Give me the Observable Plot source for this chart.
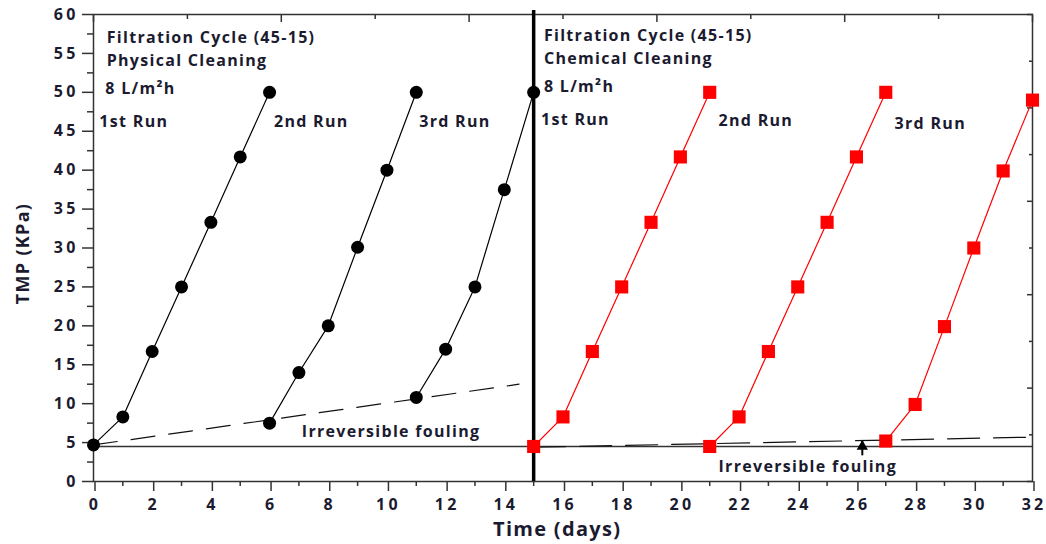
<!DOCTYPE html>
<html>
<head>
<meta charset="utf-8">
<script src="https://cdn.jsdelivr.net/npm/d3@7"></script>
<script src="https://cdn.jsdelivr.net/npm/@observablehq/plot@0.6"></script>
<style>
  html, body { margin: 0; padding: 0; background: #fff; }
  #chart svg { display: block; }
  #chart svg text { letter-spacing: 1.3px; }
  #chart svg text.ticklab { letter-spacing: 3.2px; }
</style>
</head>
<body>
<div id="chart"></div>
<script>
// ---- Data ----
const phys1X = [0, 1, 2, 3, 4, 5, 6];
const phys1Y = [4.7, 8.3, 16.7, 25.0, 33.3, 41.7, 50.0];
const phys2X = [6, 7, 8, 9, 10, 11];
const phys2Y = [7.5, 14.0, 20.0, 30.1, 40.0, 50.0];
const phys3X = [11, 12, 13, 14, 15];
const phys3Y = [10.8, 17.0, 25.0, 37.5, 50.0];

const chem1X = [15, 16, 17, 18, 19, 20, 21];
const chem1Y = [4.5, 8.3, 16.7, 25.0, 33.3, 41.7, 50.0];
const chem2X = [21, 22, 23, 24, 25, 26, 27];
const chem2Y = [4.5, 8.3, 16.7, 25.0, 33.3, 41.7, 50.0];
const chem3X = [27, 28, 29, 30, 31, 32];
const chem3Y = [5.2, 9.9, 19.9, 30.0, 39.9, 49.0];

// reference / trend lines
const baselineX = [0, 32];
const baselineY = [4.5, 4.5];
const physTrendX = [0, 14.5];
const physTrendY = [4.7, 12.5];
const chemTrendX = [15, 32];
const chemTrendY = [4.4, 5.7];
const dividerX = 15;

// tick values
const xMajor = d3.range(0, 33, 2);
const xMinor = d3.range(1, 33, 2);
const yMajor = d3.range(0, 61, 5);
const yMinor = d3.range(2.5, 60, 5);
const topMajor = [0, 6.4, 12.8, 19.2, 25.6, 32];
const topMinor = [3.2, 9.6, 16, 22.4, 28.8];
const rightMajor = [0, 12, 24, 36, 48, 60];
const rightMinor = [6, 18, 30, 42, 54];

// annotations
const noteText = ["Filtration Cycle (45-15)", "Physical Cleaning", "8 L/m\u00B2h",
                  "1st Run", "2nd Run", "3rd Run",
                  "Filtration Cycle (45-15)", "Chemical Cleaning", "8 L/m\u00B2h",
                  "1st Run", "2nd Run", "3rd Run",
                  "Irreversible fouling", "Irreversible fouling"];
const noteX = [0.45, 0.45, 0.4, 0.2, 6.15, 11.1, 15.35, 15.35, 15.35, 15.25, 21.3, 27.3, 7.1, 21.3];
const noteY = [57.0, 54.1, 50.5, 46.2, 46.2, 46.2, 57.2, 54.3, 50.7, 46.4, 46.3, 46.0, 6.4, 1.9];
const arrowX = [26.2];
const arrowY1 = [3.3];
const arrowY2 = [5.2];
const arrowHeadY = [4.5];

// ---- Build tables ----
const zip = (xs, ys, run) => xs.map((x, i) => ({x, y: ys[i], run}));
const phys = [...zip(phys1X, phys1Y, "p1"), ...zip(phys2X, phys2Y, "p2"), ...zip(phys3X, phys3Y, "p3")];
const chem = [...zip(chem1X, chem1Y, "c1"), ...zip(chem2X, chem2Y, "c2"), ...zip(chem3X, chem3Y, "c3")];
const notes = noteText.map((t, i) => ({t, x: noteX[i], y: noteY[i]}));

const ink = "#1b1b30";
const axisInk = "#333";
const font = "'Open Sans', Lato, sans-serif";

const plot = Plot.plot({
  width: 1046,
  height: 544,
  marginLeft: 93,
  marginRight: 14,
  marginTop: 14,
  marginBottom: 63,
  x: {domain: [0, 32], axis: null},
  y: {domain: [0, 60], axis: null},
  style: {fontFamily: font, fontWeight: "bold", fontSize: "15px", color: axisInk, background: "#fff"},
  marks: [
    // axes
    Plot.axisX({ticks: xMajor, tickSize: 10, tickPadding: 7, fontSize: 16, fill: ink, fontWeight: "bold", label: null, strokeWidth: 1.5, dx: 1.5}),
    Plot.axisX({ticks: xMinor, tickSize: 5, tickFormat: () => "", label: null, strokeWidth: 1.5}),
    Plot.axisY({ticks: yMajor, tickSize: 11, tickPadding: 4, fontSize: 16, fill: ink, fontWeight: "bold", label: null, strokeWidth: 1.5}),
    Plot.axisY({ticks: yMinor, tickSize: 6, tickFormat: () => "", label: null, strokeWidth: 1.5}),
    Plot.axisX({anchor: "top", ticks: topMajor, tickSize: 7, dy: 7, tickFormat: () => "", label: null, strokeWidth: 1.5}),
    Plot.axisX({anchor: "top", ticks: topMinor, tickSize: 4, dy: 4, tickFormat: () => "", label: null, strokeWidth: 1.5}),
    Plot.axisY({anchor: "right", ticks: rightMajor, tickSize: 6, dx: -6, tickFormat: () => "", label: null, strokeWidth: 1.5}),
    Plot.axisY({anchor: "right", ticks: rightMinor, tickSize: 4, dx: -4, tickFormat: () => "", label: null, strokeWidth: 1.5}),
    Plot.frame({stroke: axisInk, strokeWidth: 1.5}),

    // baseline + trend lines
    Plot.line(baselineX.map((x, i) => ({x, y: baselineY[i]})), {x: "x", y: "y", stroke: "#333", strokeWidth: 1.4}),
    Plot.line(physTrendX.map((x, i) => ({x, y: physTrendY[i]})), {x: "x", y: "y", stroke: "#111", strokeWidth: 1.2, strokeDasharray: "24 14"}),
    Plot.line(chemTrendX.map((x, i) => ({x, y: chemTrendY[i]})), {x: "x", y: "y", stroke: "#111", strokeWidth: 1.2, strokeDasharray: "32 14"}),

    // divider
    Plot.ruleX([dividerX], {y1: 0, y2: 60.5, stroke: "#000", strokeWidth: 3.5}),

    // series
    Plot.line(phys, {x: "x", y: "y", z: "run", stroke: "#000", strokeWidth: 1.2}),
    Plot.line(chem, {x: "x", y: "y", z: "run", stroke: "#ff0000", strokeWidth: 1.2}),
    Plot.dot(phys, {x: "x", y: "y", r: 6.5, fill: "#000", stroke: "none"}),
    Plot.dot(chem, {x: "x", y: "y", symbol: "square", r: 7.4, fill: "#ff0000", stroke: "none"}),

    // arrow
    Plot.ruleX(arrowX.map((x, i) => ({x, y1: arrowY1[i], y2: arrowY2[i]})), {x: "x", y1: "y1", y2: "y2", stroke: "#000", strokeWidth: 2}),
    Plot.dot(arrowX.map((x, i) => ({x, y: arrowHeadY[i]})), {x: "x", y: "y", symbol: "triangle", r: 4.2, fill: "#000", stroke: "none"}),

    // annotations
    Plot.text(notes, {x: "x", y: "y", text: "t", textAnchor: "start", fill: ink, fontSize: 16, fontWeight: "bold", fontFamily: font}),

    // axis titles
    Plot.text(["Time (days)"], {x: 15.8, frameAnchor: "bottom", dy: 54, lineAnchor: "bottom", fill: ink, fontSize: 20, fontWeight: "bold", fontFamily: font}),
    Plot.text(["TMP (KPa)"], {y: 29.3, frameAnchor: "left", dx: -70, textAnchor: "middle", rotate: -90, fill: ink, fontSize: 18, fontWeight: "bold", fontFamily: font})
  ]
});
// widen the numeric tick labels to match the reference's stretched digits
plot.querySelectorAll("text").forEach((t) => {
  if (/^\d+$/.test(t.textContent.trim())) t.classList.add("ticklab");
});
document.getElementById("chart").appendChild(plot);
</script>
</body>
</html>
